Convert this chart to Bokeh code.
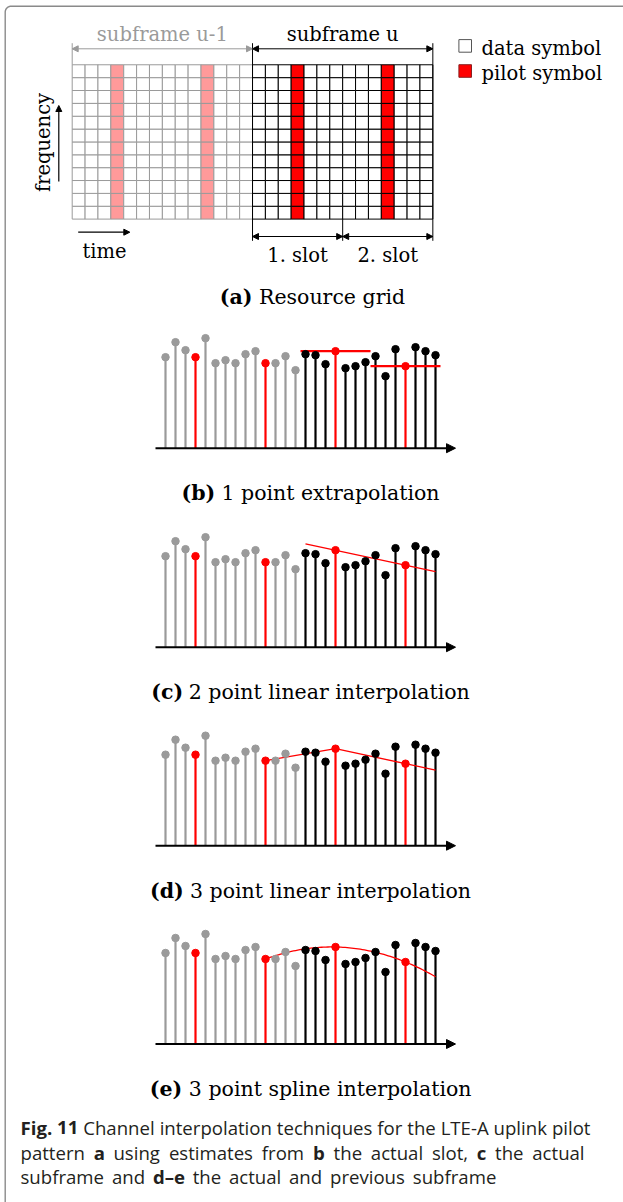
import numpy as np
from bokeh.plotting import figure
from bokeh.models import Range1d, Arrow, NormalHead
from bokeh.core.properties import value
from bokeh.embed import file_html
from bokeh.resources import INLINE

# ---------------------------------------------------------------- data
# channel estimate per SC-FDMA symbol (two subframes of 14 symbols)
prev_subframe = [0.91, 1.06, 0.98, 0.91, 1.10, 0.85, 0.88, 0.85, 0.94, 0.97, 0.85, 0.85, 0.92, 0.78]
curr_subframe = [0.94, 0.93, 0.84, 0.97, 0.80, 0.82, 0.86, 0.92, 0.72, 0.99, 0.82, 1.01, 0.97, 0.93]
pilot_symbols = [3, 10]          # DMRS position inside a subframe
symbols_per_subframe = 14
symbols_per_slot = 7
subcarriers = 12

panel_tags = ["(b)", "(c)", "(d)", "(e)"]
panel_titles = ["1 point extrapolation", "2 point linear interpolation",
                "3 point linear interpolation", "3 point spline interpolation"]
legend_labels = ["data symbol", "pilot symbol"]
caption_lines = [
    [("Fig. 11", True), (" Channel interpolation techniques for the LTE-A uplink pilot", False)],
    [("pattern ", False), ("a", True), (" using estimates from ", False), ("b", True),
     (" the actual slot, ", False), ("c", True), (" the actual", False)],
    [("subframe and ", False), ("d\u2013e", True), (" the actual and previous subframe", False)],
]
caption_right = [590.0, 584.0, 496.0]

# ---------------------------------------------------------------- layout
W, H = 623, 1202
GX0, GY0, CW, CH = 71.7, 218.6, 12.88, 12.86      # resource grid origin / cell size
S0, DS, VS = 165.0, 10.0, 100.0                    # stem panels: first symbol, spacing, px per unit
panel_base = [447.7, 646.7, 845.2, 1043.5]

SERIF = value("DejaVu Serif")
SANS = value("Open Sans")
GRAY, PINK, RED = "#9a9a9a", "#ff9a9a", "#ff0000"

p = figure(width=W, height=H, x_range=Range1d(0, W), y_range=Range1d(H, 0),
           output_backend="svg", toolbar_location=None, min_border=0,
           x_axis_type=None, y_axis_type=None, outline_line_color=None)
p.grid.visible = False
p.background_fill_color = "white"
p.border_fill_color = "white"

p.extra_x_ranges = {
    "gx": Range1d(-GX0 / CW, (W - GX0) / CW),
    "sym": Range1d(-S0 / DS, (W - S0) / DS),
}
p.extra_y_ranges = {"gy": Range1d((GY0 - H) / CH, GY0 / CH)}
for k, b in enumerate(panel_base):
    p.extra_y_ranges[f"pan{k}"] = Range1d((b - H) / VS, b / VS)

# ---------------------------------------------------------------- frame
r = 6.0
th = np.linspace(np.pi, 1.5 * np.pi, 12)
bx = np.concatenate([[4.7], 4.7 + r + r * np.cos(th), [640]])
by = np.concatenate([[1230], 5.7 + r + r * np.sin(th), [5.7]])
p.line(bx, by, line_color="#8a8a8a", line_width=1.4)

# ---------------------------------------------------------------- (a) resource grid
for sf in range(2):
    xs, ys, fills = [], [], []
    for c in range(symbols_per_subframe):
        for rr in range(subcarriers):
            xs.append(sf * symbols_per_subframe + c + 0.5)
            ys.append(rr + 0.5)
            if c in pilot_symbols:
                fills.append(PINK if sf == 0 else RED)
            else:
                fills.append("white")
    p.rect(xs, ys, 1, 1, fill_color=fills, line_color=GRAY if sf == 0 else "black",
           line_width=1, x_range_name="gx", y_range_name="gy")

n_all = 2 * symbols_per_subframe
# boundary ticks
p.segment(x0=[0], y0=[42.7], x1=[0], y1=[GY0 - CH * subcarriers], line_color=GRAY,
          line_width=1, x_range_name="gx")
p.segment(x0=[14, 28, 21], y0=[42.7, 42.7, GY0], x1=[14, 28, 21], y1=[240.3, 240.3, 240.3],
          line_color="black", line_width=1, x_range_name="gx")


def dbl_arrow(x0, x1, y, color):
    p.add_layout(Arrow(x_start=x0, y_start=y, x_end=x1, y_end=y,
                       start=NormalHead(size=6, fill_color=color, line_color=color, line_width=1),
                       end=NormalHead(size=6, fill_color=color, line_color=color, line_width=1),
                       line_color=color, line_width=1, x_range_name="gx"))


dbl_arrow(0, 14, 48.3, GRAY)
dbl_arrow(14, 28, 48.3, "black")
dbl_arrow(14, 21, 236.0, "black")
dbl_arrow(21, 28, 236.0, "black")

LAB = "19.5px"
p.text(x=[7], y=[34], text=["subframe u-1"], text_font=SERIF, text_font_size=LAB,
       text_color=GRAY, text_align="center", text_baseline="alphabetic", x_range_name="gx")
p.text(x=[21], y=[34], text=["subframe u"], text_font=SERIF, text_font_size=LAB,
       text_color="black", text_align="center", text_baseline="alphabetic", x_range_name="gx")
p.text(x=[17.5, 24.5], y=[255, 255], text=["1. slot", "2. slot"], text_font=SERIF,
       text_font_size=LAB, text_color="black", text_align="center",
       text_baseline="alphabetic", x_range_name="gx")

# time / frequency axes
p.add_layout(Arrow(x_start=77.7, y_start=231.7, x_end=129.3, y_end=231.7,
                   end=NormalHead(size=6, fill_color="black", line_color="black", line_width=1),
                   line_color="black", line_width=1.2))
p.add_layout(Arrow(x_start=58.3, y_start=181, x_end=58.3, y_end=105,
                   end=NormalHead(size=6, fill_color="black", line_color="black", line_width=1),
                   line_color="black", line_width=1.2))
p.text(x=[104], y=[251], text=["time"], text_font=SERIF, text_font_size=LAB,
       text_color="black", text_align="center", text_baseline="alphabetic")
p.text(x=[43], y=[142], text=["frequency"], text_font=SERIF, text_font_size=LAB,
       text_color="black", text_align="center", text_baseline="alphabetic", angle=np.pi / 2)

# legend
p.rect(x=[464.7, 464.7], y=[45.4, 70.5], width=12.6, height=12.6,
       fill_color=["white", RED], line_color=["#555555", "#8a2020"], line_width=1)
p.text(x=[481, 481], y=[47.5, 73], text=legend_labels, text_font=SERIF,
       text_font_size=LAB, text_color="black", text_align="left",
       text_baseline="alphabetic")

# ---------------------------------------------------------------- width helpers for captions
DJS = {' ': .318, '(': .390, ')': .390, 'a': .602, 'b': .640, 'c': .550, 'd': .640, 'e': .592,
       'g': .640, 'i': .320, 'l': .320, 'n': .640, 'o': .602, 'p': .640, 'r': .479, 's': .513,
       't': .401, 'x': .560, 'y': .570, 'u': .640, 'R': .766, '1': .636, '2': .636, '3': .636,
       '.': .318}
DJB = {'(': .457, ')': .457, 'a': .675, 'b': .716, 'c': .593, 'd': .716, 'e': .678}
OSR = {' ': .26, 'a': .556, 'b': .613, 'c': .476, 'd': .613, 'e': .561, 'f': .339, 'g': .548,
       'h': .614, 'i': .253, 'j': .253, 'k': .525, 'l': .253, 'm': .930, 'n': .614, 'o': .604,
       'p': .613, 'q': .613, 'r': .408, 's': .477, 't': .353, 'u': .614, 'v': .501, 'w': .778,
       'x': .524, 'y': .502, 'z': .463, ',': .245, '.': .266, '-': .322, 'L': .531, 'T': .539,
       'E': .556, 'A': .633, 'C': .631}
OSB = {' ': .26, 'a': .59, 'b': .63, 'c': .513, 'd': .63, 'e': .585, 'F': .56, 'i': .297,
       'g': .56, '.': .286, '1': .572, '\u2013': .5}


def width(s, table, size):
    return sum(table.get(ch, 0.58) for ch in s) * size


def tagged_caption(tag, title, cx, base, size=20.5):
    wt = width(tag, DJB, size)
    gap = DJS[' '] * size
    wr = width(title, DJS, size)
    x0 = cx - (wt + gap + wr) / 2
    p.text(x=[x0], y=[base], text=[tag], text_font=SERIF, text_font_size=f"{size}px",
           text_font_style="bold", text_color="black", text_align="left",
           text_baseline="alphabetic")
    p.text(x=[x0 + wt + gap], y=[base], text=[title], text_font=SERIF,
           text_font_size=f"{size}px", text_color="black", text_align="left",
           text_baseline="alphabetic")


tagged_caption("(a)", "Resource grid", 312, 296)

# ---------------------------------------------------------------- (b)-(e) stem panels
vals = np.array(prev_subframe + curr_subframe)
idx = np.arange(n_all)
colors = []
for i in idx:
    if i % symbols_per_subframe in pilot_symbols:
        colors.append(RED)
    elif i < symbols_per_subframe:
        colors.append(GRAY)
    else:
        colors.append("black")

pil = np.array([i for i in idx if i % symbols_per_subframe in pilot_symbols])
cur_pil = pil[pil >= symbols_per_subframe]          # 17, 24
last_three = pil[-3:]                                # 10, 17, 24

for k, base in enumerate(panel_base):
    yr = f"pan{k}"
    p.segment(x0=idx, y0=0, x1=idx, y1=vals, line_color=colors, line_width=2.2,
              x_range_name="sym", y_range_name=yr)

    if k == 0:
        # hold each slot's pilot over its slot
        for s, pi in enumerate(cur_pil):
            lo = symbols_per_subframe - 0.5 + s * symbols_per_slot
            p.line([lo, lo + symbols_per_slot], [vals[pi], vals[pi]], line_color=RED,
                   line_width=2.2, x_range_name="sym", y_range_name=yr)
    elif k == 1:
        coef = np.polyfit(cur_pil, vals[cur_pil], 1)
        xx = np.array([symbols_per_subframe, n_all - 1])
        p.line(xx, np.polyval(coef, xx), line_color=RED, line_width=1.3,
               x_range_name="sym", y_range_name=yr)
    elif k == 2:
        slope = (vals[last_three[-1]] - vals[last_three[-2]]) / (last_three[-1] - last_three[-2])
        xx = list(last_three) + [n_all - 1]
        yy = list(vals[last_three]) + [vals[last_three[-1]] + slope * (n_all - 1 - last_three[-1])]
        p.line(xx, yy, line_color=RED, line_width=1.3, x_range_name="sym", y_range_name=yr)
    else:
        coef = np.polyfit(last_three, vals[last_three], 2)
        xx = np.linspace(last_three[0], n_all - 1, 80)
        p.line(xx, np.polyval(coef, xx), line_color=RED, line_width=1.3,
               x_range_name="sym", y_range_name=yr)

    p.scatter(idx, vals, size=7.5, fill_color=colors, line_color=colors,
              x_range_name="sym", y_range_name=yr)

    p.add_layout(Arrow(x_start=-1, y_start=0, x_end=n_all + 1, y_end=0,
                       end=NormalHead(size=9, fill_color="black", line_color="black", line_width=1),
                       line_color="black", line_width=2,
                       x_range_name="sym", y_range_name=yr))

    tagged_caption(panel_tags[k], panel_titles[k], 310, base + 45)

# ---------------------------------------------------------------- figure caption
cap_size = 18.6
cap_left = 20.0
for li, segs in enumerate(caption_lines):
    yb = [1127, 1151.5, 1176][li]
    # characters with their weight, then words (runs separated by spaces)
    chars = [(ch, bold) for txt, bold in segs for ch in txt]
    words, cur = [], []
    for ch, bold in chars:
        if ch == " ":
            if cur:
                words.append(cur)
            cur = []
        else:
            if cur and cur[-1][1] == bold:
                cur[-1] = (cur[-1][0] + ch, bold)
            else:
                cur.append((ch, bold))
    if cur:
        words.append(cur)
    widths = [sum(width(t, OSB if b else OSR, cap_size) for t, b in wd) for wd in words]
    space = (caption_right[li] - cap_left - sum(widths)) / (len(words) - 1)
    x = cap_left
    for wd, ww in zip(words, widths):
        xx = x
        for t, bold in wd:
            p.text(x=[xx], y=[yb], text=[t], text_font=SANS, text_font_size=f"{cap_size}px",
                   text_font_style="bold" if bold else "normal", text_color="#231f20",
                   text_align="left", text_baseline="alphabetic")
            xx += width(t, OSB if bold else OSR, cap_size)
        x += ww + space

open("out.html", "w").write(file_html(p, INLINE))
